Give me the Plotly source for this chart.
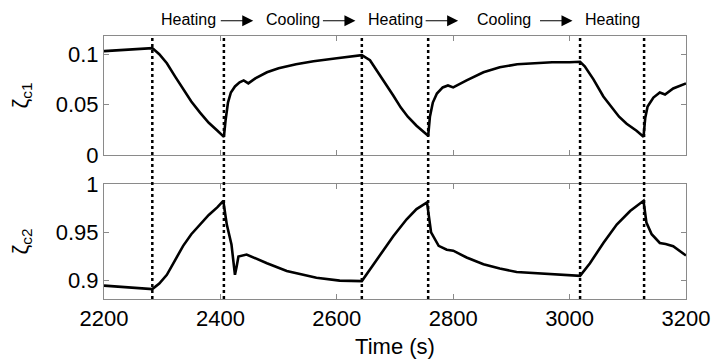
import plotly.graph_objects as go

# ---- data ----
t_c1 = [2200, 2230, 2260, 2283, 2295, 2308, 2322, 2336, 2350, 2365, 2380, 2395, 2406,
        2409, 2413, 2418, 2425, 2433, 2440, 2448, 2460, 2480, 2500, 2530, 2560, 2600,
        2630, 2643, 2657, 2670, 2683, 2697, 2710, 2722, 2737, 2750, 2757, 2760, 2765,
        2772, 2782, 2791, 2800, 2823, 2852, 2880, 2910, 2940, 2970, 3000, 3018, 3026,
        3041, 3058, 3072, 3085, 3098, 3115, 3127, 3130, 3134, 3144, 3155, 3164, 3178,
        3190, 3200]
zeta_c1 = [0.103, 0.104, 0.105, 0.106, 0.100, 0.091, 0.078, 0.065, 0.053, 0.042, 0.032,
           0.024, 0.018, 0.035, 0.052, 0.062, 0.068, 0.072, 0.074, 0.071, 0.076, 0.082,
           0.086, 0.090, 0.093, 0.096, 0.098, 0.099, 0.094, 0.083, 0.071, 0.059, 0.047,
           0.038, 0.029, 0.023, 0.019, 0.038, 0.052, 0.061, 0.067, 0.069, 0.067, 0.074,
           0.082, 0.087, 0.090, 0.091, 0.092, 0.092, 0.0925, 0.088, 0.075, 0.058, 0.047,
           0.038, 0.031, 0.024, 0.018, 0.037, 0.048, 0.057, 0.062, 0.060, 0.066, 0.069,
           0.071]

t_c2 = [2200, 2240, 2283, 2295, 2308, 2322, 2336, 2350, 2365, 2380, 2395, 2405, 2408,
        2411, 2419, 2423, 2425, 2428, 2431, 2445, 2460, 2480, 2514, 2565, 2605, 2643,
        2657, 2680, 2697, 2720, 2737, 2755, 2758, 2762, 2775, 2789, 2800, 2823, 2852,
        2880, 2909, 2966, 3000, 3018, 3035, 3058, 3081, 3104, 3127, 3132, 3141, 3155,
        3165, 3178, 3200]
zeta_c2 = [0.8948, 0.893, 0.8913, 0.897, 0.906, 0.921, 0.936, 0.948, 0.958, 0.968, 0.976,
           0.9826, 0.970, 0.958, 0.9375, 0.920, 0.906, 0.915, 0.925, 0.927, 0.923, 0.918,
           0.910, 0.903, 0.900, 0.8995, 0.9115, 0.932, 0.946, 0.9635, 0.974, 0.981, 0.965,
           0.950, 0.936, 0.932, 0.931, 0.924, 0.917, 0.9125, 0.909, 0.907, 0.906, 0.905,
           0.918, 0.939, 0.958, 0.972, 0.9826, 0.960, 0.948, 0.939, 0.938, 0.9357, 0.926]

switch_times = [2283, 2406, 2643, 2757, 3018, 3128]
phase_labels = ["Heating", "Cooling", "Heating", "Cooling", "Heating"]

x_ticks = [2200, 2400, 2600, 2800, 3000, 3200]
y1_ticks = [0, 0.05, 0.1]
y1_ticktext = ["0", "0.05", "0.1"]
y2_ticks = [0.9, 0.95, 1.0]
y2_ticktext = ["0.9", "0.95", "1"]

# ---- figure ----
FONT = "Liberation Sans, Arial, sans-serif"
fig = go.Figure()
fig.add_trace(go.Scatter(x=t_c1, y=zeta_c1, mode="lines", xaxis="x", yaxis="y",
                         line=dict(color="black", width=2.6), showlegend=False))
fig.add_trace(go.Scatter(x=t_c2, y=zeta_c2, mode="lines", xaxis="x2", yaxis="y2",
                         line=dict(color="black", width=2.6), showlegend=False))

for ts in switch_times:
    fig.add_shape(type="line", xref="x2", yref="paper", x0=ts, x1=ts, y0=0, y1=1,
                  line=dict(color="black", width=2.5, dash="dot"), layer="above")

label_y = 1.062
centers = [(switch_times[i] + switch_times[i + 1]) / 2 for i in range(len(phase_labels))]
for c, lab in zip(centers, phase_labels):
    fig.add_annotation(x=c, y=label_y, xref="x2", yref="paper", text=lab,
                       xanchor="center", yanchor="middle",
                       showarrow=False, font=dict(family=FONT, size=16, color="black"))
for i in range(len(phase_labels) - 1):
    tip = centers[i + 1] - (79 if i == 2 else 68)
    fig.add_annotation(x=tip, y=label_y - 0.004, xref="x2", yref="paper", text="",
                       showarrow=True, axref="pixel", ayref="pixel", ax=-34, ay=0,
                       arrowhead=2, arrowsize=2.0, arrowwidth=1.1, arrowcolor="black")

axis_common = dict(showline=True, linecolor="#8a8a8a", linewidth=1, mirror="ticks",
                   ticks="inside", ticklen=5, tickcolor="#8a8a8a", showgrid=False,
                   zeroline=False, automargin=False,
                   tickfont=dict(family=FONT, size=22, color="black"))
title_font = dict(family=FONT, size=22, color="black")

fig.update_layout(
    width=715, height=361,
    margin=dict(l=104, r=29, t=36, b=62),
    paper_bgcolor="white", plot_bgcolor="white",
    xaxis=dict(domain=[0, 1], anchor="y", range=[2200, 3200], tickvals=x_ticks,
               showticklabels=False, **axis_common),
    yaxis=dict(domain=[0.5475, 1], anchor="x", range=[0, 0.118], tickvals=y1_ticks,
               ticktext=y1_ticktext,
               title=dict(text="ζ<sub>c1</sub>", font=title_font, standoff=21),
               **axis_common),
    xaxis2=dict(domain=[0, 1], anchor="y2", range=[2200, 3200], tickvals=x_ticks,
                title=dict(text="Time (s)", font=title_font, standoff=8),
                **axis_common),
    yaxis2=dict(domain=[0, 0.4373], anchor="x2", range=[0.881, 1.0], tickvals=y2_ticks,
                ticktext=y2_ticktext,
                title=dict(text="ζ<sub>c2</sub>", font=title_font, standoff=21),
                **axis_common),
)

fig.write_html("out.html", config={"displayModeBar": False},
               post_script="document.body.style.margin='0';document.body.style.overflow='hidden';")
